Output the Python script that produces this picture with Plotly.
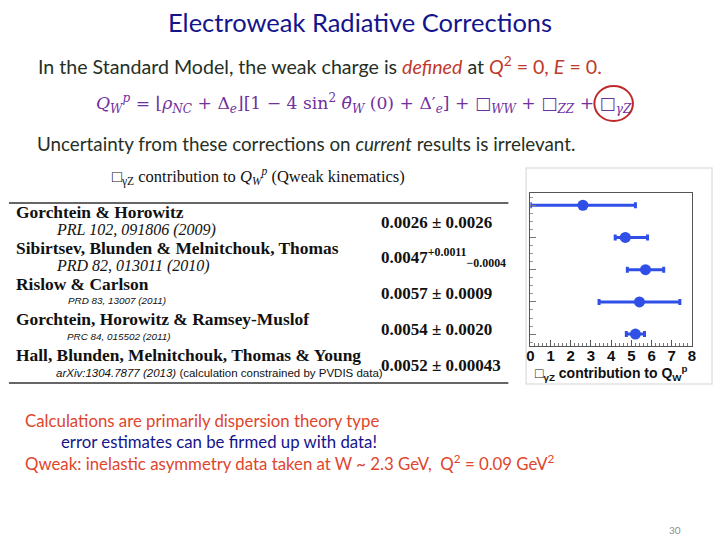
import plotly.graph_objects as go

# Box_gammaZ contribution to Q_W^p, in units of 10^-3
references = ["Gorchtein & Horowitz",
              "Sibirtsev, Blunden & Melnitchouk, Thomas",
              "Rislow & Carlson",
              "Gorchtein, Horowitz & Ramsey-Muslof",
              "Hall, Blunden, Melnitchouk, Thomas & Young"]
citations = ["PRL 102, 091806 (2009)",
             "PRD 82, 013011 (2010)",
             "PRD 83, 13007 (2011)",
             "PRC 84, 015502 (2011)",
             "arXiv:1304.7877 (2013)"]
quoted = ["0.0026 ± 0.0026",
          "0.0047<sup>+0.0011</sup><sub>−0.0004</sub>",
          "0.0057 ± 0.0009",
          "0.0054 ± 0.0020",
          "0.0052 ± 0.00043"]
central = [2.6, 4.7, 5.7, 5.4, 5.2]
err_plus = [2.6, 1.1, 0.9, 2.0, 0.45]
err_minus = [2.6, 0.5, 0.9, 2.0, 0.45]
row_pos = [4, 3, 2, 1, 0]
x_ticks = [0, 1, 2, 3, 4, 5, 6, 7, 8]

W, H = 720, 540
px = lambda x: x / W
py = lambda y: 1 - y / H

blue = "#2f4fe6"
purple = "#7030a0"
red = "#e0452c"
navy = "#14148c"
dark = "#262f26"
body = "Lato"
serif = "Liberation Serif"

fig = go.Figure()
fig.add_trace(go.Scatter(
    x=central, y=row_pos, mode="markers",
    marker=dict(color=blue, size=11),
    error_x=dict(type="data", symmetric=False, array=err_plus, arrayminus=err_minus,
                 color=blue, thickness=3, width=3),
    showlegend=False, hoverinfo="x"))

ann = []
def txt(x, y, s, size, color="#000", family=body, anchor="left", weight="normal"):
    ann.append(dict(x=px(x), y=py(y), xref="paper", yref="paper", text=s, showarrow=False,
                    xanchor=anchor, yanchor="middle",
                    font=dict(size=size, color=color, family=family, weight=weight)))

txt(360, 22, "Electroweak Radiative Corrections", 25.5, navy, anchor="center")
txt(32, 65, "In the Standard Model, the weak charge is <i><span style='color:#c0392b'>defined</span></i> at "
            "<span style='color:#c0392b'><i>Q</i><sup>2</sup> = 0, <i>E</i> = 0.</span>", 19.6, dark)
txt(91, 103, "<i>Q</i><sub><i>W</i></sub><sup><i>p</i></sup> = ⌊<i>ρ</i><sub><i>NC</i></sub> + Δ<sub><i>e</i></sub>⌋"
             "[1 − 4 sin<sup>2</sup> <i>θ̂</i><sub><i>W</i></sub> (0) + Δ′<sub><i>e</i></sub>] + □<sub><i>WW</i></sub>"
             " + □<sub><i>ZZ</i></sub> + □<sub><i>γZ</i></sub>", 17.2, purple, family="DejaVu Serif")
txt(31, 143, "Uncertainty from these corrections on <i>current</i> results is irrelevant.", 18.8, dark)

txt(257, 177, "□<sub>γZ</sub> contribution to <i>Q</i><sub><i>W</i></sub><sup><i>p</i></sup> (Qweak kinematics)",
    16.5, "#111", family=serif, anchor="center")
for i, (name, cite, val) in enumerate(zip(references, citations, quoted)):
    y0 = 212 + i * 35.8
    txt(10, y0, "<b>" + name + "</b>", 17.4, "#111", family=serif)
    if i < 2:
        txt(51, y0 + 18, "<i>" + cite + "</i>", 16, "#111", family=serif)
    elif i < 4:
        txt(62 if i == 3 else 63, y0 + 17, "<i>" + cite + "</i>", 9.9, "#111", family="Liberation Sans")
    else:
        txt(51, y0 + 18, "<i>" + cite + "</i> (calculation constrained by PVDIS data)", 11.5, "#111",
            family="Liberation Sans")
    txt(379, y0 + 10, "<b>" + val + "</b>", 17, "#111", family=serif)

txt(19, 420, "Calculations are primarily dispersion theory type", 16.8, red)
txt(56, 441, "error estimates can be firmed up with data!", 16.8, navy)
txt(19, 462, "Qweak: inelastic asymmetry data taken at W ~ 2.3 GeV,  Q<sup>2</sup> = 0.09 GeV<sup>2</sup>", 16.8, red)
txt(670, 530, "30", 10, "#8c8c8c")
txt(614, 373, "□<sub>γZ</sub> contribution to Q<sub>W</sub><sup>p</sup>", 14, "#111",
    family="Liberation Sans", anchor="center", weight="bold")

shapes = [
    dict(type="line", xref="paper", yref="paper", x0=px(5), x1=px(510), y0=py(203), y1=py(203),
         line=dict(color="#666", width=2)),
    dict(type="line", xref="paper", yref="paper", x0=px(5), x1=px(510), y0=py(383), y1=py(383),
         line=dict(color="#666", width=2)),
    dict(type="rect", xref="paper", yref="paper", x0=px(528), x1=px(716), y0=py(384), y1=py(168),
         line=dict(color="#e2e2e2", width=1.5), layer="below"),
    dict(type="circle", xref="paper", yref="paper", x0=px(597), x1=px(636), y0=py(121), y1=py(86),
         line=dict(color="#c0282a", width=2)),
]

fig.update_layout(
    width=W, height=H, margin=dict(l=0, r=0, t=0, b=0),
    paper_bgcolor="white", plot_bgcolor="white",
    annotations=ann, shapes=shapes,
    xaxis=dict(domain=[px(532.3), px(695.7)], range=[0, 8], tickvals=x_ticks,
               ticks="inside", ticklen=6, tickcolor="#555", showgrid=False, zeroline=False,
               showline=True, linecolor="#555", mirror=True, ticklabelstandoff=-4,
               minor=dict(dtick=0.2, ticks="inside", ticklen=3, tickcolor="#777"),
               tickfont=dict(family="Liberation Sans", size=15, color="#111", weight="bold")),
    yaxis=dict(domain=[py(345.7), py(192.7)], range=[-0.36, 4.39], showticklabels=False,
               tickvals=row_pos, ticks="inside", ticklen=6, tickcolor="#777",
               minor=dict(dtick=0.25, ticks="inside", ticklen=3, tickcolor="#999"),
               showgrid=False, zeroline=False, showline=True, linecolor="#555", mirror=True),
)

fig.write_html("out.html", config={"displayModeBar": False},
               post_script="document.body.style.margin='0';")
